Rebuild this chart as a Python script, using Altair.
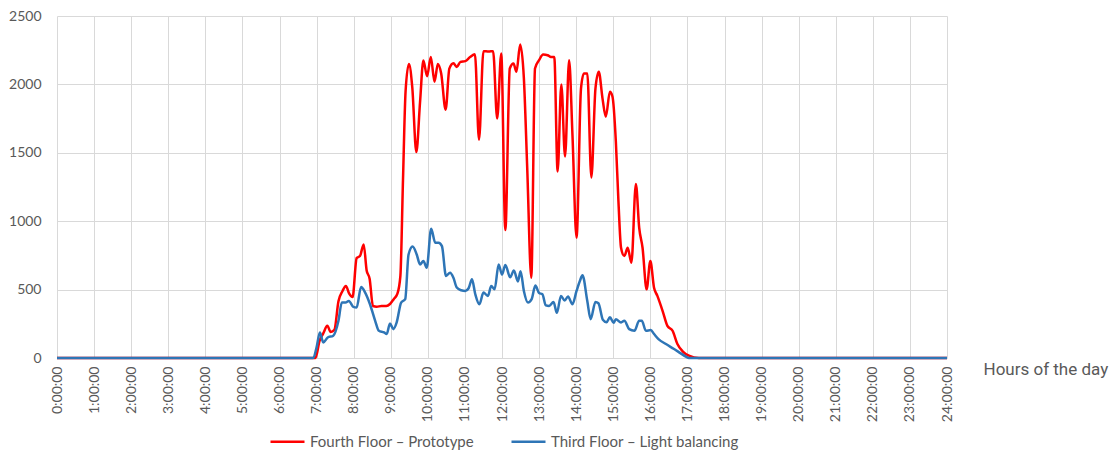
import altair as alt
import pandas as pd

# ---- data (hours of the day, illuminance values) ----
series_names = ["Fourth Floor – Prototype", "Third Floor – Light balancing"]
series_colors = ["#ff0000", "#2e75b6"]

red_hours = [0, 6.97, 7.08, 7.18, 7.29, 7.38, 7.48, 7.59, 7.70, 7.79, 7.88, 7.97,
             8.08, 8.17, 8.27, 8.35, 8.43, 8.52, 8.62, 8.75, 8.88, 8.98, 9.08, 9.18,
             9.26, 9.33, 9.40, 9.49, 9.58, 9.69, 9.79, 9.88, 9.98, 10.08, 10.18, 10.27,
             10.36, 10.48, 10.58, 10.69, 10.78, 10.88, 11.01, 11.14, 11.27, 11.38, 11.50,
             11.64, 11.76, 11.87, 11.98, 12.09, 12.21, 12.31, 12.39, 12.49, 12.59, 12.68,
             12.79, 12.89, 13.00, 13.11, 13.23, 13.32, 13.41, 13.50, 13.60, 13.70, 13.81,
             13.90, 14.01, 14.13, 14.21, 14.30, 14.41, 14.52, 14.61, 14.71, 14.80, 14.91,
             14.98, 15.07, 15.14, 15.21, 15.30, 15.39, 15.49, 15.61, 15.70, 15.79, 15.90,
             16.00, 16.10, 16.19, 16.33, 16.46, 16.60, 16.73, 16.87, 17.04, 17.31, 24]
red_values = [0, 0, 125, 180, 235, 190, 205, 415, 490, 527, 470, 445,
              730, 745, 830, 640, 580, 380, 375, 380, 380, 395, 430, 470,
              600, 1300, 1950, 2150, 1980, 1505, 1870, 2175, 2060, 2200, 2020, 2150,
              2080, 1815, 2115, 2155, 2128, 2165, 2170, 2200, 2220, 1595, 2243,
              2240, 2243, 1750, 2225, 935, 2116, 2153, 2092, 2291, 2044, 1390,
              587, 2116, 2177, 2218, 2213, 2200, 2200, 1364, 2000, 1473, 2177,
              1631, 880, 1970, 2080, 2080, 1320, 1970, 2092, 1898, 1764, 1946,
              1910, 1583, 1145, 806, 745, 806, 697, 1272, 951, 806, 502,
              709, 514, 454, 345, 235, 199, 102, 49, 17, 0, 0]

blue_hours = [0, 6.91, 7.00, 7.09, 7.18, 7.30, 7.45, 7.59, 7.68, 7.78, 7.87, 7.99,
              8.08, 8.20, 8.31, 8.44, 8.58, 8.68, 8.82, 8.89, 8.98, 9.07, 9.16, 9.28,
              9.39, 9.48, 9.59, 9.70, 9.79, 9.88, 9.97, 10.09, 10.20, 10.29, 10.38,
              10.49, 10.60, 10.69, 10.78, 10.90, 11.01, 11.10, 11.19, 11.28, 11.39,
              11.50, 11.62, 11.71, 11.80, 11.91, 12.00, 12.09, 12.22, 12.32, 12.43,
              12.50, 12.59, 12.70, 12.80, 12.90, 13.00, 13.09, 13.18, 13.27, 13.39,
              13.48, 13.59, 13.69, 13.78, 13.90, 14.01, 14.10, 14.17, 14.30, 14.39,
              14.52, 14.60, 14.72, 14.82, 14.91, 15.01, 15.07, 15.21, 15.30, 15.43,
              15.57, 15.70, 15.77, 15.88, 16.01, 16.10, 16.22, 16.42, 16.64, 16.82,
              16.96, 17.04, 24]
blue_values = [0, 0, 78, 187, 114, 150, 163, 272, 405, 405, 417, 374,
               369, 519, 478, 393, 272, 199, 187, 175, 252, 211, 260, 405,
               430, 757, 815, 757, 684, 709, 660, 944, 842, 842, 818,
               600, 624, 587, 515, 495, 490, 510, 575, 466, 393,
               478, 454, 527, 502, 684, 610, 680, 590, 640, 560,
               634, 490, 405, 430, 530, 475, 466, 385, 381, 410,
               330, 454, 420, 450, 393, 490, 563, 605, 417, 284,
               410, 400, 280, 262, 298, 258, 284, 260, 272, 211,
               199, 272, 272, 199, 204, 175, 138, 102, 66, 34,
               10, 0, 0]

hour_ticks = list(range(25))
value_ticks = [0, 500, 1000, 1500, 2000, 2500]

df = pd.concat([
    pd.DataFrame({"hour": red_hours, "value": red_values, "series": series_names[0]}),
    pd.DataFrame({"hour": blue_hours, "value": blue_values, "series": series_names[1]}),
], ignore_index=True)

x = alt.X(
    "hour:Q",
    scale=alt.Scale(domain=[0, 24], nice=False, zero=False),
    axis=alt.Axis(
        values=hour_ticks,
        labelExpr="datum.value + ':00:00'",
        labelAngle=270,
        labelPadding=8,
        labelOverlap=False,
        labelFlush=False,
        ticks=False,
        tickSize=0,
        domain=False,
        grid=True,
        title="Hours of the day",
        titleAngle=0,
        titleX=926,
        titleY=11,
        titleAlign="left",
        titleBaseline="middle",
        titleFont="Roboto",
        titleFontSize=17,
        titleFontWeight="normal",
        titleColor="#595959",
    ),
)
y = alt.Y(
    "value:Q",
    scale=alt.Scale(domain=[0, 2500], nice=False),
    axis=alt.Axis(
        values=value_ticks,
        format="d",
        ticks=False,
        tickSize=0,
        domain=False,
        grid=True,
        labelPadding=16,
        title=None,
    ),
)
color = alt.Color(
    "series:N",
    scale=alt.Scale(domain=series_names, range=series_colors),
    legend=alt.Legend(
        title=None,
        orient="none",
        legendX=212,
        legendY=407,
        direction="horizontal",
        symbolType="stroke",
        symbolSize=1156,
        symbolStrokeWidth=2.5,
        labelOffset=4,
        columnPadding=31,
        labelFont="Lato",
        labelFontSize=15,
        labelColor="#595959",
        labelLimit=400,
        padding=0,
    ),
)

base = alt.Chart(df)
red = base.transform_filter(alt.datum.series == series_names[0]).mark_line(
    strokeWidth=2.5, interpolate="monotone"
).encode(x=x, y=y, color=color)
blue = base.transform_filter(alt.datum.series == series_names[1]).mark_line(
    strokeWidth=2.5, interpolate="monotone"
).encode(x=x, y=y, color=color)

chart = alt.layer(red, blue).properties(
    width=890,
    height=342,
    autosize=alt.AutoSizeParams(type="none"),
    padding={"left": 49, "top": 8, "right": 164, "bottom": 93},
).configure_view(
    strokeWidth=0
).configure_axis(
    labelFont="Lato",
    labelFontSize=14,
    labelColor="#595959",
    gridColor="#d9d9d9",
    gridWidth=1,
)

chart.save("out.html", embed_options={"renderer": "svg", "actions": False})
